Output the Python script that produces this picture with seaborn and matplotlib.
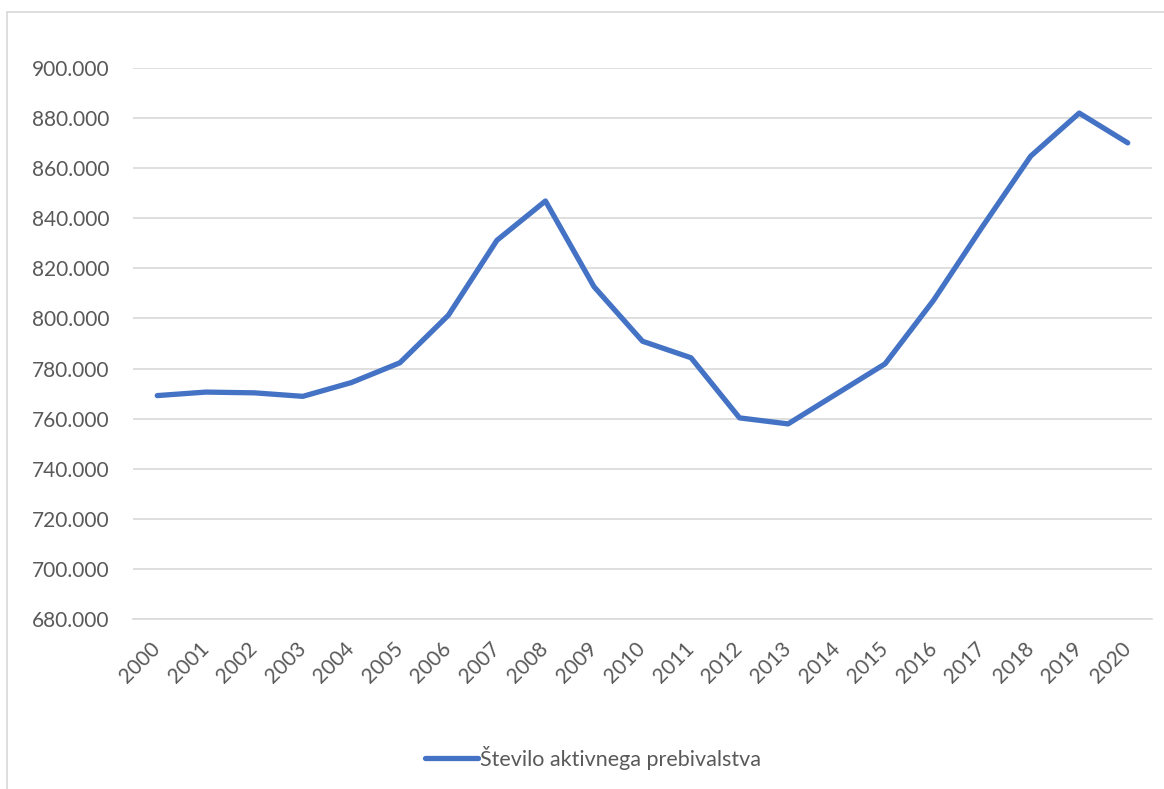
import matplotlib
matplotlib.use("Agg")
import matplotlib.pyplot as plt
from matplotlib.lines import Line2D
from matplotlib.ticker import FuncFormatter, MultipleLocator
import seaborn as sns
import pandas as pd

# Active population by year (thousands of people)
years = ["2000", "2001", "2002", "2003", "2004", "2005", "2006", "2007",
         "2008", "2009", "2010", "2011", "2012", "2013", "2014", "2015",
         "2016", "2017", "2018", "2019", "2020"]
active = [769.2, 770.6, 770.3, 768.9, 774.4, 782.3, 801.3, 831.2,
          846.9, 812.7, 790.9, 784.3, 760.3, 757.9, 769.9, 781.9,
          807.3, 836.5, 864.8, 882.0, 870.1]
series_name = "Število aktivnega prebivalstva"

df = pd.DataFrame({"leto": years, "vrednost": active})

sns.set_theme(style="white")
plt.rcParams["font.family"] = ["Lato", "DejaVu Sans"]

TEXT = "#595959"
GRID = "#D9D9D9"
BLUE = "#4472C4"

fig = plt.figure(figsize=(11.64, 7.89), dpi=100)
ax = fig.add_axes([133 / 1164, 1 - 619 / 789, (1152 - 133) / 1164, (619 - 68) / 789])

sns.lineplot(data=df, x="leto", y="vrednost", ax=ax, color=BLUE,
             linewidth=3.8, sort=False, label=series_name,
             solid_capstyle="round", solid_joinstyle="round")

ax.set_xlim(-0.5, len(years) - 0.5)
ax.set_ylim(680, 900)
ax.yaxis.set_major_locator(MultipleLocator(20))
ax.yaxis.set_major_formatter(FuncFormatter(lambda v, p: f"{v:.3f}"))
ax.grid(axis="y", color=GRID, linewidth=1.2)
ax.grid(axis="x", visible=False)
ax.set_axisbelow(True)
for s in ax.spines.values():
    s.set_visible(False)
ax.spines["bottom"].set_visible(True)
ax.spines["bottom"].set_color(GRID)
ax.spines["bottom"].set_linewidth(1.2)

ax.set_xlabel("")
ax.set_ylabel("")
ax.tick_params(axis="y", length=0, pad=17, labelsize=15, labelcolor=TEXT)
ax.tick_params(axis="x", length=0, pad=19, labelsize=15, labelcolor=TEXT)
for lbl in ax.get_xticklabels():
    lbl.set_rotation(45)
    lbl.set_ha("right")
    lbl.set_va("center")
    lbl.set_rotation_mode("anchor")

leg = ax.legend(loc="center", bbox_to_anchor=(593 / 1164, 1 - 758 / 789),
                bbox_transform=fig.transFigure, frameon=False, fontsize=15.5,
                handlelength=2.5, handletextpad=0.1, borderaxespad=0)
for t in leg.get_texts():
    t.set_color(TEXT)

# chart-area border (left and top edges)
fig.add_artist(Line2D([6.5 / 1164, 6.5 / 1164], [1 - 12 / 789, 0],
                      transform=fig.transFigure, color=GRID, linewidth=1.2))
fig.add_artist(Line2D([6.5 / 1164, 1], [1 - 12 / 789, 1 - 12 / 789],
                      transform=fig.transFigure, color=GRID, linewidth=1.2))

fig.savefig("out.png", dpi=100, facecolor="white")
